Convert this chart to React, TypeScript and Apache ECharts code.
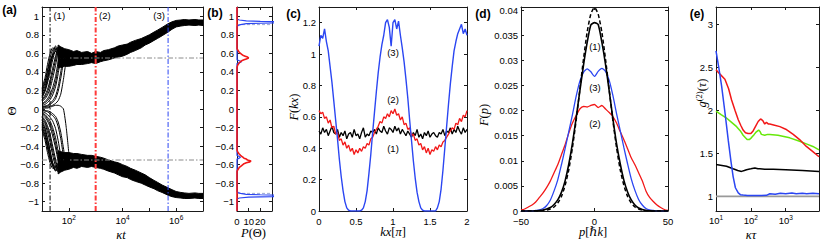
import React, { useEffect, useRef } from 'react';
import * as echarts from 'echarts';

// ---------------- Panel (a): Theta vs kappa t ----------------
const A_FAN_T = [10, 13, 16, 20, 25, 32, 40, 50, 63, 80, 100];
const A_FAN = [
  [0.20, 0.30, 0.42, 0.55, 0.64, 0.66, 0.62, 0.58, 0.57, 0.56, 0.55],
  [0.16, 0.25, 0.36, 0.49, 0.60, 0.68, 0.64, 0.60, 0.56, 0.54, 0.55],
  [0.14, 0.22, 0.33, 0.46, 0.58, 0.65, 0.62, 0.57, 0.55, 0.55, 0.56],
  [0.13, 0.19, 0.28, 0.40, 0.53, 0.64, 0.67, 0.61, 0.55, 0.53, 0.54],
  [0.10, 0.15, 0.21, 0.31, 0.44, 0.57, 0.66, 0.62, 0.57, 0.55, 0.56],
  [0.09, 0.13, 0.18, 0.27, 0.39, 0.53, 0.64, 0.63, 0.58, 0.56, 0.55],
  [0.08, 0.11, 0.15, 0.22, 0.33, 0.47, 0.61, 0.65, 0.58, 0.55, 0.54],
  [0.06, 0.08, 0.11, 0.16, 0.23, 0.35, 0.51, 0.63, 0.60, 0.56, 0.55],
  [0.05, 0.07, 0.09, 0.13, 0.19, 0.29, 0.45, 0.60, 0.61, 0.57, 0.55],
  [0.04, 0.05, 0.07, 0.10, 0.15, 0.24, 0.38, 0.55, 0.62, 0.57, 0.55],
  [0.03, 0.03, 0.04, 0.06, 0.09, 0.14, 0.24, 0.40, 0.56, 0.60, 0.56],
  [0.02, 0.03, 0.03, 0.05, 0.07, 0.11, 0.19, 0.33, 0.50, 0.58, 0.57],
  [0.01, 0.02, 0.02, 0.03, 0.04, 0.06, 0.09, 0.16, 0.32, 0.52, 0.58],
  [0.18, 0.28, 0.40, 0.52, 0.58, 0.62, 0.60, 0.55, 0.52, 0.50, 0.52],
  [0.12, 0.20, 0.31, 0.45, 0.57, 0.62, 0.58, 0.52, 0.50, 0.51, 0.53],
  [0.22, 0.34, 0.48, 0.60, 0.66, 0.64, 0.60, 0.56, 0.54, 0.54, 0.55],
  [-0.18, -0.28, -0.40, -0.52, -0.62, -0.66, -0.62, -0.58, -0.56, -0.55, -0.55],
  [-0.16, -0.25, -0.37, -0.50, -0.61, -0.67, -0.63, -0.58, -0.56, -0.55, -0.55],
  [-0.14, -0.22, -0.33, -0.46, -0.58, -0.66, -0.66, -0.60, -0.56, -0.55, -0.54],
  [-0.11, -0.16, -0.25, -0.36, -0.50, -0.62, -0.68, -0.62, -0.57, -0.55, -0.56],
  [-0.09, -0.14, -0.21, -0.31, -0.45, -0.58, -0.66, -0.63, -0.58, -0.56, -0.55],
  [-0.08, -0.12, -0.18, -0.27, -0.40, -0.54, -0.64, -0.64, -0.58, -0.55, -0.55],
  [-0.06, -0.09, -0.13, -0.19, -0.29, -0.42, -0.56, -0.65, -0.60, -0.56, -0.55],
  [-0.05, -0.07, -0.11, -0.16, -0.24, -0.37, -0.52, -0.63, -0.61, -0.57, -0.55],
  [-0.04, -0.06, -0.09, -0.13, -0.20, -0.31, -0.46, -0.60, -0.62, -0.57, -0.55],
  [-0.03, -0.04, -0.06, -0.09, -0.13, -0.21, -0.34, -0.50, -0.62, -0.58, -0.55],
  [-0.02, -0.02, -0.03, -0.05, -0.07, -0.11, -0.19, -0.32, -0.50, -0.60, -0.57],
  [-0.01, -0.02, -0.02, -0.03, -0.05, -0.08, -0.14, -0.25, -0.42, -0.58, -0.58],
  [0.00, 0.01, 0.01, 0.02, 0.03, 0.04, 0.04, 0.03, 0.00, -0.20, -0.48],
  [-0.20, -0.30, -0.42, -0.54, -0.60, -0.62, -0.58, -0.54, -0.52, -0.52, -0.53],
  [-0.12, -0.20, -0.31, -0.45, -0.58, -0.64, -0.60, -0.55, -0.52, -0.53, -0.54],
  [-0.22, -0.34, -0.47, -0.58, -0.64, -0.63, -0.59, -0.56, -0.54, -0.54, -0.55],
];
const A_BAND_T = [40, 50, 70, 100, 150, 200, 300, 500, 700, 1000, 1500, 2000, 3000, 5000, 7000,
  1e4, 1.5e4, 2e4, 3e4, 5e4, 7e4, 1e5, 1.5e5, 2e5, 3e5, 5e5, 7e5, 1e6, 1.5e6, 2e6, 3e6, 5e6, 7e6, 1e7];
const A_UP_TOP = [0.69, 0.67, 0.65, 0.64, 0.62, 0.63, 0.61, 0.62, 0.60, 0.62, 0.61, 0.63, 0.64, 0.66, 0.68,
  0.69, 0.70, 0.72, 0.74, 0.76, 0.78, 0.80, 0.83, 0.85, 0.88, 0.92, 0.94, 0.955, 0.96, 0.965, 0.96, 0.965, 0.96, 0.96];
const A_UP_BOT = [0.44, 0.45, 0.46, 0.46, 0.47, 0.48, 0.48, 0.49, 0.50, 0.49, 0.51, 0.52, 0.53, 0.55, 0.56,
  0.57, 0.59, 0.61, 0.63, 0.66, 0.69, 0.71, 0.74, 0.76, 0.79, 0.83, 0.86, 0.885, 0.895, 0.90, 0.905, 0.90, 0.905, 0.90];
const A_LO_TOP = [-0.45, -0.46, -0.47, -0.47, -0.48, -0.48, -0.49, -0.50, -0.50, -0.51, -0.52, -0.53, -0.55, -0.57, -0.58,
  -0.60, -0.62, -0.64, -0.66, -0.69, -0.71, -0.74, -0.77, -0.79, -0.82, -0.85, -0.87, -0.89, -0.90, -0.905, -0.91, -0.905, -0.91, -0.91];
const A_LO_BOT = [-0.70, -0.68, -0.66, -0.65, -0.63, -0.64, -0.62, -0.63, -0.62, -0.63, -0.64, -0.65, -0.67, -0.69, -0.71,
  -0.73, -0.74, -0.76, -0.78, -0.80, -0.82, -0.84, -0.86, -0.88, -0.90, -0.93, -0.945, -0.955, -0.96, -0.965, -0.965, -0.96, -0.965, -0.965];
const A_MARK_T = [20, 1000, 5e5];
const A_MARK_LABELS = ['(1)', '(2)', '(3)'];
const A_MARK_LABEL_T = [44, 2200, 2.3e5];
const A_GUIDES = [0.55, -0.55];

// ---------------- Panel (b): P(Theta) ----------------
const B_RED_THETA = [-1.1, -0.67, -0.65, -0.63, -0.61, -0.59, -0.58, -0.57, -0.56, -0.55, -0.54, -0.53, -0.52, -0.51, -0.50, -0.48, -0.46, -0.44,
  0.45, 0.47, 0.49, 0.51, 0.52, 0.53, 0.54, 0.55, 0.56, 0.57, 0.58, 0.59, 0.60, 0.61, 0.63, 0.65, 1.1];
const B_RED_P = [0, 0, 1, 2, 4, 6, 8, 11, 12, 9, 8, 6, 5, 4, 3, 1.5, 0.5, 0,
  0, 0.5, 1.5, 3, 4, 6, 8, 10, 9, 7, 5, 4, 3, 2, 1, 0, 0];
const B_BLUE_THETA = [-1.1, -0.97, -0.96, -0.95, -0.945, -0.94, -0.935, -0.93, -0.925, -0.92, -0.91, -0.90, -0.89,
  -0.54, -0.53, -0.52, -0.51, -0.50, 0.49, 0.50, 0.51, 0.52, 0.53,
  0.89, 0.90, 0.91, 0.92, 0.925, 0.93, 0.935, 0.94, 0.945, 0.95, 0.96, 0.97, 1.1];
const B_BLUE_P = [0, 0, 2, 10, 30, 45, 50, 40, 20, 8, 3, 1, 0,
  0, 2, 3, 1.5, 0, 0, 2, 4, 2, 0,
  0, 1, 3, 8, 20, 45, 50, 40, 20, 8, 2, 0, 0];
const B_GUIDES = [0.91, -0.91];

// ---------------- Panel (c): F(kx) ----------------
const C_KX_STEP = 0.025;
const C_BLUE = [
  1.05, 1.12, 1.10, 1.16, 1.08, 1.02, 0.92, 0.82, 0.70, 0.58,
  0.46, 0.33, 0.22, 0.13, 0.06, 0.02, 0.005, 0, 0, 0,
  0, 0, 0, 0.005, 0.02, 0.06, 0.13, 0.24, 0.36, 0.50,
  0.63, 0.76, 0.88, 0.98, 1.06, 1.12, 1.20, 1.22, 1.17, 1.05,
  1.20, 1.22, 1.16, 1.21, 1.12, 1.04, 0.95, 0.84, 0.72, 0.58,
  0.45, 0.32, 0.21, 0.12, 0.06, 0.02, 0.005, 0, 0, 0,
  0, 0, 0, 0, 0.02, 0.06, 0.14, 0.26, 0.40, 0.54,
  0.68, 0.81, 0.92, 1.02, 1.08, 1.13, 1.16, 1.19, 1.13, 1.16,
  1.12,
];
const C_RED = [
  0.64, 0.62, 0.63, 0.59, 0.60, 0.56, 0.58, 0.53, 0.54, 0.49,
  0.50, 0.45, 0.46, 0.42, 0.44, 0.40, 0.42, 0.38, 0.40, 0.36,
  0.39, 0.37, 0.40, 0.38, 0.41, 0.40, 0.43, 0.42, 0.46, 0.47,
  0.50, 0.52, 0.54, 0.57, 0.56, 0.60, 0.59, 0.62, 0.60, 0.64,
  0.62, 0.65, 0.61, 0.62, 0.58, 0.60, 0.55, 0.56, 0.52, 0.53,
  0.48, 0.49, 0.45, 0.46, 0.42, 0.43, 0.39, 0.41, 0.37, 0.40,
  0.36, 0.39, 0.38, 0.41, 0.39, 0.42, 0.41, 0.44, 0.45, 0.47,
  0.49, 0.51, 0.53, 0.52, 0.56, 0.55, 0.59, 0.57, 0.61, 0.60,
  0.64,
];
const C_BLACK = [
  0.51, 0.49, 0.53, 0.50, 0.52, 0.48, 0.51, 0.54, 0.50, 0.49,
  0.52, 0.47, 0.50, 0.48, 0.51, 0.46, 0.49, 0.50, 0.47, 0.52,
  0.48, 0.49, 0.46, 0.50, 0.53, 0.47, 0.49, 0.48, 0.51, 0.50,
  0.52, 0.49, 0.53, 0.51, 0.50, 0.54, 0.51, 0.49, 0.53, 0.52,
  0.50, 0.54, 0.51, 0.53, 0.49, 0.52, 0.50, 0.48, 0.51, 0.49,
  0.47, 0.50, 0.48, 0.52, 0.47, 0.49, 0.46, 0.50, 0.48, 0.51,
  0.47, 0.49, 0.50, 0.48, 0.47, 0.50, 0.49, 0.52, 0.48, 0.51,
  0.50, 0.53, 0.49, 0.52, 0.50, 0.54, 0.51, 0.49, 0.53, 0.50,
  0.52,
];
const C_LABELS = [
  { name: '(3)', value: [1.0, 1.01] },
  { name: '(2)', value: [1.0, 0.713] },
  { name: '(1)', value: [1.0, 0.397] },
];

// ---------------- Panel (d): F(p) ----------------
const D_P_START = -50;
const D_P_STEP = 2.5;
const D_THEORY = [
  0, 0, 0, 0, 0, 0.00003, 0.00008, 0.00017, 0.0004, 0.0008,
  0.0016, 0.0029, 0.0051, 0.0082, 0.0126, 0.0180, 0.0241, 0.0302, 0.0356, 0.0392,
  0.0405,
  0.0392, 0.0356, 0.0302, 0.0241, 0.0180, 0.0126, 0.0082, 0.0051, 0.0029, 0.0016,
  0.0008, 0.0004, 0.00017, 0.00008, 0.00003, 0, 0, 0, 0, 0,
];
const D_BLACK = [
  0, 0, 0, 0, 0.00005, 0.0001, 0.0002, 0.0004, 0.0007, 0.0013,
  0.0022, 0.0037, 0.0060, 0.0093, 0.0135, 0.0185, 0.0238, 0.0290, 0.0335, 0.0370,
  0.0375,
  0.0371, 0.0336, 0.0292, 0.0239, 0.0184, 0.0134, 0.0094, 0.0061, 0.0038, 0.0022,
  0.0012, 0.0006, 0.0003, 0.0001, 0.00005, 0, 0, 0, 0, 0,
];
const D_BLUE = [
  0, 0, 0, 0, 0.0001, 0.0002, 0.0005, 0.0011, 0.0022, 0.0040,
  0.0062, 0.0092, 0.0124, 0.0158, 0.0192, 0.0228, 0.0258, 0.0276, 0.0283, 0.0277,
  0.0268,
  0.0278, 0.0284, 0.0278, 0.0260, 0.0230, 0.0194, 0.0160, 0.0126, 0.0094, 0.0064,
  0.0041, 0.0023, 0.0012, 0.0005, 0.0002, 0.0001, 0, 0, 0, 0,
];
const D_RED = [
  0.0002, 0.0004, 0.0008, 0.0012, 0.0018, 0.0027, 0.0036, 0.0047, 0.0060, 0.0076,
  0.0092, 0.0112, 0.0132, 0.0155, 0.0175, 0.0190, 0.0203, 0.0208, 0.0207, 0.0210,
  0.0212,
  0.0206, 0.0210, 0.0203, 0.0196, 0.0188, 0.0175, 0.0158, 0.0142, 0.0124, 0.0106,
  0.0092, 0.0076, 0.0060, 0.0040, 0.0027, 0.0019, 0.0012, 0.0007, 0.0003, 0.0001,
];
const D_LABELS = [
  { name: '(1)', value: [0.3, 0.0327] },
  { name: '(3)', value: [0.3, 0.0245] },
  { name: '(2)', value: [0.3, 0.0174] },
];

// ---------------- Panel (e): g2(tau) ----------------
const E_BLUE_T = [10, 12, 14.5, 18, 22.5, 27, 31, 36, 43.5, 50, 60, 80, 120, 200, 280, 350, 500, 700, 1000, 1500, 2000, 3000, 4000, 6000, 9000];
const E_BLUE = [2.69, 2.50, 2.28, 1.98, 1.65, 1.40, 1.23, 1.10, 1.04, 1.02, 1.015, 1.01, 1.01, 1.01, 1.012, 1.03, 1.025, 1.035, 1.03, 1.04, 1.03, 1.035, 1.03, 1.035, 1.03];
const E_RED_T = [10, 13, 18, 23, 28, 35, 43.5, 52, 60, 70, 83, 100, 116, 135, 162, 190, 220, 250, 280, 320, 350, 450, 680, 1000, 1640, 2500, 3900, 6000, 9000];
const E_RED = [2.47, 2.42, 2.36, 2.25, 2.12, 2.00, 1.89, 1.82, 1.77, 1.74, 1.73, 1.73, 1.76, 1.81, 1.87, 1.90, 1.88, 1.84, 1.86, 1.84, 1.84, 1.83, 1.81, 1.78, 1.72, 1.66, 1.58, 1.52, 1.46];
const E_GREEN_T = [10, 14, 20, 28, 39, 50, 60, 70, 78, 90, 103, 125, 144, 167, 185, 200, 250, 300, 350, 600, 1300, 2500, 3900, 6000, 9000];
const E_GREEN = [1.99, 1.95, 1.91, 1.86, 1.81, 1.76, 1.71, 1.68, 1.66, 1.66, 1.68, 1.72, 1.75, 1.77, 1.75, 1.72, 1.71, 1.72, 1.72, 1.71, 1.68, 1.64, 1.61, 1.58, 1.54];
const E_BLACK_T = [10, 20, 31, 42, 54, 65, 75, 100, 130, 160, 180, 250, 440, 1000, 3000, 9000];
const E_BLACK = [1.37, 1.35, 1.32, 1.30, 1.29, 1.30, 1.31, 1.32, 1.33, 1.32, 1.32, 1.315, 1.315, 1.31, 1.30, 1.29];
const E_REF = 1;

// ---------------- Axis ticks ----------------
const A_X_TICKS = [10, 100, 1000, 1e4, 1e5, 1e6, 1e7];
const A_X_LABELS = [100, 1e4, 1e6];
const THETA_TICKS = [-1, -0.8, -0.6, -0.4, -0.2, 0, 0.2, 0.4, 0.6, 0.8, 1];
const B_X_TICKS = [0, 10, 20, 30];
const B_X_LABELS = [0, 10, 20];
const C_X_TICKS = [0, 0.5, 1, 1.5, 2];
const C_Y_TICKS = [0, 0.2, 0.4, 0.6, 0.8, 1, 1.2];
const D_X_TICKS = [-50, 0, 50];
const D_Y_TICKS = [0, 0.005, 0.01, 0.015, 0.02, 0.025, 0.03, 0.035, 0.04];
const E_X_TICKS = [10, 100, 1000];
const E_Y_TICKS = [1, 1.5, 2, 2.5, 3];

const SANS = '"Liberation Sans", Arial, Helvetica, sans-serif';
const SERIF = '"Liberation Serif", "DejaVu Serif", serif';
const AX = '#1a1a1a';
const BLUE = '#2b46f2';
const RED = '#f21818';
const GREEN = '#66e80a';

const GRIDS = [
  { left: 42, top: 7, width: 161, height: 204 },
  { left: 237, top: 7, width: 35, height: 204 },
  { left: 319, top: 7, width: 148, height: 204 },
  { left: 521, top: 7, width: 147, height: 204 },
  { left: 716, top: 7, width: 103, height: 204 },
];

const numFmt = (v: number) => String(v).replace('-', '\u2212');
const powFmt = (v: number) => `{b|10}{s|${Math.round(Math.log10(v))}}`;
const powRich = {
  b: { fontFamily: SANS, fontSize: 9.5, color: '#000' },
  s: { fontFamily: SANS, fontSize: 6.5, color: '#000', padding: [0, 0, 5, 0] },
};

type Spec = { type: 'value' | 'log'; min: number; max: number; ticks: number[]; labels: number[]; fmt: (v: number) => string; rich?: any };

function axisCommon(g: number, s: Spec) {
  const o: any = {
    gridIndex: g,
    type: s.type,
    min: s.min,
    max: s.max,
    splitLine: { show: false },
    minorTick: { show: false },
    axisLine: { show: true, onZero: false, lineStyle: { color: AX, width: 1 } },
    axisTick: { show: true, inside: true, length: 3, customValues: s.ticks, lineStyle: { color: AX, width: 1 } },
  };
  if (s.type === 'log') o.logBase = 10;
  return o;
}
function xPair(g: number, s: Spec, margin: number) {
  return [
    { ...axisCommon(g, s), position: 'bottom', axisLabel: { show: true, customValues: s.labels, margin, color: '#000', fontFamily: SANS, fontSize: 9.5, formatter: s.fmt, rich: s.rich } },
    { ...axisCommon(g, s), position: 'top', axisLabel: { show: false } },
  ];
}
function yPair(g: number, s: Spec) {
  return [
    { ...axisCommon(g, s), position: 'left', axisLabel: { show: true, customValues: s.labels, margin: 3, color: '#000', fontFamily: SANS, fontSize: 9.5, formatter: s.fmt } },
    { ...axisCommon(g, s), position: 'right', axisLabel: { show: false } },
  ];
}

function line(g: number, data: number[][], color: string, width: number, style: any = {}) {
  return {
    type: 'line', xAxisIndex: 2 * g, yAxisIndex: 2 * g, data, symbol: 'none', silent: true,
    lineStyle: { color, width, ...style },
  };
}
const zip = (xs: number[], ys: number[]) => xs.map((x, i) => [x, ys[i]]);
const grid = (start: number, step: number, ys: number[]) => ys.map((y, i) => [+(start + i * step).toFixed(4), y]);

function labelSeries(g: number, data: any[]) {
  return {
    type: 'scatter', xAxisIndex: 2 * g, yAxisIndex: 2 * g, data, symbolSize: 0, silent: true, z: 20,
    itemStyle: { color: '#000', opacity: 0 },
    label: { show: true, position: 'inside', formatter: '{b}', color: '#000', fontFamily: SANS, fontSize: 9.5, textBorderWidth: 0, textBorderColor: 'transparent', opacity: 1 },
  };
}

function bandSeries(ts: number[], bot: number[], top: number[]) {
  return {
    type: 'custom', coordinateSystem: 'cartesian2d', xAxisIndex: 0, yAxisIndex: 0, silent: true, clip: true,
    data: [[ts[0], top[0]]],
    renderItem: (_p: any, api: any) => {
      const pts: number[][] = [];
      ts.forEach((t, i) => pts.push(api.coord([t, top[i]])));
      for (let i = ts.length - 1; i >= 0; i--) pts.push(api.coord([ts[i], bot[i]]));
      return { type: 'polygon', shape: { points: pts }, style: { fill: '#000', stroke: '#000', lineWidth: 1 } };
    },
  };
}

const DASHDOT = [5, 2, 1.5, 2];

function buildOption() {
  const aX: Spec = { type: 'log', min: 10, max: 1e7, ticks: A_X_TICKS, labels: A_X_LABELS, fmt: powFmt, rich: powRich };
  const th: Spec = { type: 'value', min: -1.1, max: 1.1, ticks: THETA_TICKS, labels: THETA_TICKS, fmt: numFmt };
  const bX: Spec = { type: 'value', min: 0, max: 30, ticks: B_X_TICKS, labels: B_X_LABELS, fmt: numFmt };
  const cX: Spec = { type: 'value', min: 0, max: 2, ticks: C_X_TICKS, labels: C_X_TICKS, fmt: numFmt };
  const cY: Spec = { type: 'value', min: 0, max: 1.3, ticks: C_Y_TICKS, labels: C_Y_TICKS, fmt: numFmt };
  const dX: Spec = { type: 'value', min: -50, max: 50, ticks: D_X_TICKS, labels: D_X_TICKS, fmt: numFmt };
  const dY: Spec = { type: 'value', min: 0, max: 0.0406, ticks: D_Y_TICKS, labels: D_Y_TICKS, fmt: numFmt };
  const eX: Spec = { type: 'log', min: 10, max: 9000, ticks: E_X_TICKS, labels: E_X_TICKS, fmt: powFmt, rich: powRich };
  const eY: Spec = { type: 'value', min: 0.83, max: 3.2, ticks: E_Y_TICKS, labels: E_Y_TICKS, fmt: numFmt };

  const xAxis = [...xPair(0, aX, 3), ...xPair(1, bX, 5), ...xPair(2, cX, 5), ...xPair(3, dX, 5), ...xPair(4, eX, 3)];
  const yAxis = [...yPair(0, th), ...yPair(1, th), ...yPair(2, cY), ...yPair(3, dY), ...yPair(4, eY)];

  const series: any[] = [];
  // (a)
  A_GUIDES.forEach((v) => series.push(line(0, [[10, v], [1e7, v]], '#8a8a8a', 1, { type: DASHDOT })));
  series.push(bandSeries(A_BAND_T, A_UP_BOT, A_UP_TOP));
  series.push(bandSeries(A_BAND_T, A_LO_BOT, A_LO_TOP));
  A_FAN.forEach((vals) => series.push({ ...line(0, zip(A_FAN_T, vals), '#000', 1), smooth: 0.2 }));
  const markColors = ['#000', '#ff3a3a', BLUE];
  const markWidths = [1, 2, 1];
  A_MARK_T.forEach((t, i) => series.push({ ...line(0, [[t, -1.1], [t, 1.1]], markColors[i], markWidths[i], { type: DASHDOT }), z: 6 }));
  series.push(labelSeries(0, A_MARK_LABEL_T.map((t, i) => ({ name: A_MARK_LABELS[i], value: [t, 1.006] }))));

  // (b)
  B_GUIDES.forEach((v) => series.push(line(1, [[0, v], [30, v]], '#7f8fc8', 0.8, { type: [3, 2] })));
  series.push(line(1, zip(B_BLUE_P, B_BLUE_THETA), BLUE, 1.2));
  series.push({ ...line(1, zip(B_RED_P, B_RED_THETA), RED, 1.6), clip: false });

  // (c)
  series.push(line(2, grid(0, C_KX_STEP, C_BLACK), '#000', 1.3));
  series.push(line(2, grid(0, C_KX_STEP, C_RED), RED, 1.3));
  series.push(line(2, grid(0, C_KX_STEP, C_BLUE), BLUE, 1.4));
  series.push(labelSeries(2, C_LABELS));

  // (d)
  series.push({ ...line(3, grid(D_P_START, D_P_STEP, D_RED), RED, 1.3), smooth: 0.2 });
  series.push({ ...line(3, grid(D_P_START, D_P_STEP, D_BLUE), BLUE, 1.3), smooth: 0.2 });
  series.push({ ...line(3, grid(D_P_START, D_P_STEP, D_BLACK), '#000', 1.6), smooth: 0.2 });
  series.push({ ...line(3, grid(D_P_START, D_P_STEP, D_THEORY), '#000', 1.5, { type: [4, 2.5] }), smooth: 0.2 });
  series.push(labelSeries(3, D_LABELS));

  // (e)
  series.push(line(4, [[10, E_REF], [9000, E_REF]], '#9a9a9a', 1.6));
  series.push(line(4, zip(E_BLACK_T, E_BLACK), '#000', 1.5));
  series.push(line(4, zip(E_GREEN_T, E_GREEN), GREEN, 1.5));
  series.push(line(4, zip(E_RED_T, E_RED), RED, 1.5));
  series.push(line(4, zip(E_BLUE_T, E_BLUE), BLUE, 1.5));

  const rich = {
    i: { fontFamily: SERIF, fontStyle: 'italic', fontSize: 12.5, color: '#000' },
    n: { fontFamily: SERIF, fontSize: 12.5, color: '#000' },
    s: { fontFamily: SERIF, fontSize: 8.5, color: '#000', padding: [0, 0, 7, 0] },
  };
  const title = (text: string, x: number, y: number, rot = 0) => ({
    type: 'text', x, y, rotation: rot, silent: true,
    style: { text, rich, align: 'center', verticalAlign: 'middle' },
  });
  const panel = (text: string, x: number, y: number) => ({
    type: 'text', x, y, silent: true,
    style: { text, fontFamily: SANS, fontWeight: 'bold', fontSize: 12, fill: '#000', align: 'center', verticalAlign: 'middle' },
  });
  const R = Math.PI / 2;
  const graphic = [
    panel('(a)', 9.5, 10), panel('(b)', 215, 13), panel('(c)', 293.5, 14), panel('(d)', 483, 14), panel('(e)', 697, 14),
    title('{n|\u0398}', 12, 111, R),
    title('{i|\u03bat}', 121, 234.5),
    title('{i|P}{n|(\u0398)}', 253.5, 233),
    title('{i|F}{n|(}{i|kx}{n|)}', 294, 107, R),
    title('{i|kx}{n|[}{i|\u03c0}{n|]}', 393, 232),
    title('{i|F}{n|(}{i|p}{n|)}', 484, 115, R),
    title('{i|p}{n|[}{i|\u210fk}{n|]}', 593, 232),
    title('{i|g}{s|(2)}{n|(}{i|\u03c4}{n|)}', 702, 93, R),
    title('{i|\u03ba\u03c4}', 751, 234.5),
  ];

  return {
    animation: false,
    backgroundColor: '#fff',
    grid: GRIDS.map((g) => ({ ...g, containLabel: false, outerBoundsMode: 'none' })),
    xAxis,
    yAxis,
    series,
    graphic,
  };
}

export default function App() {
  const ref = useRef<HTMLDivElement>(null);
  useEffect(() => {
    document.body.style.margin = '0';
    const chart = echarts.init(ref.current!, undefined, { renderer: 'svg', width: 822, height: 240 });
    chart.setOption(buildOption() as any);
    return () => chart.dispose();
  }, []);
  return <div ref={ref} style={{ width: 822, height: 240 }} />;
}
